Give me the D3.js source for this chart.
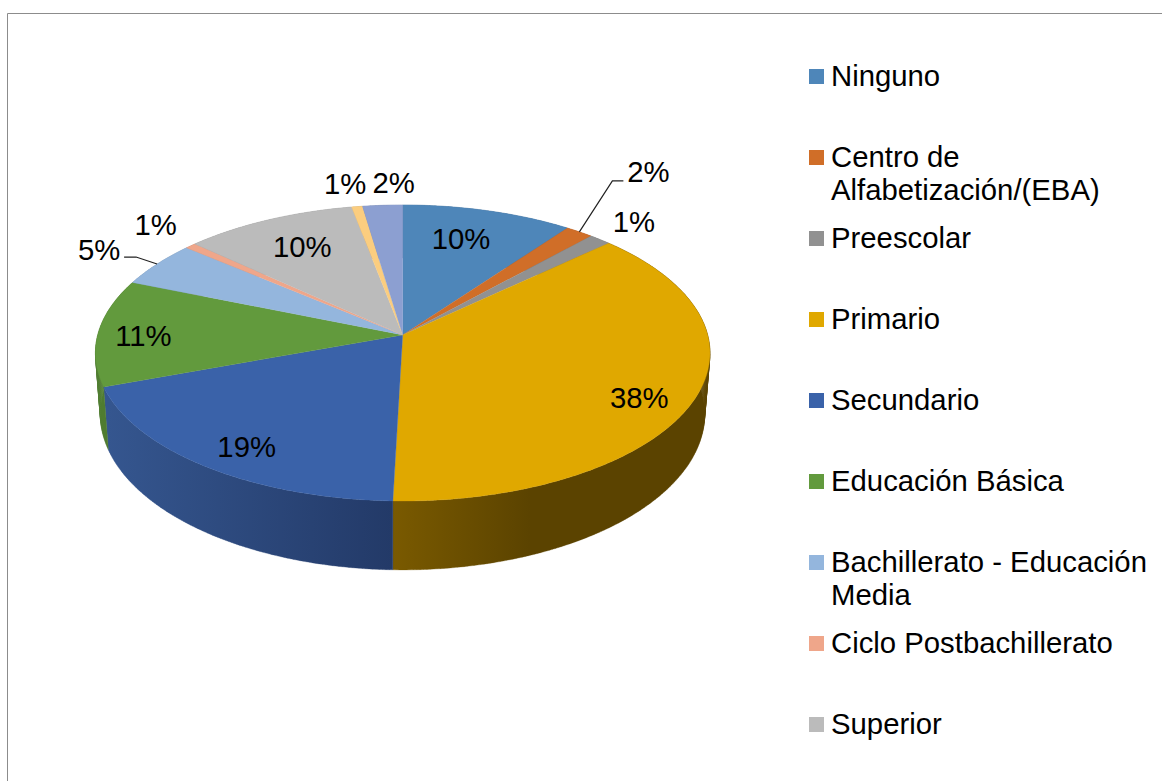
<!DOCTYPE html>
<html>
<head>
<meta charset="utf-8">
<script src="https://cdn.jsdelivr.net/npm/d3@7/dist/d3.min.js"></script>
<style>
html,body{margin:0;padding:0;background:#fff;overflow:hidden}
svg{display:block}
text{font-family:"Liberation Sans",Arial,sans-serif;fill:#000}
</style>
</head>
<body>
<div id="chart"></div>
<script>
// Data (percent of the pie)
const values = [10.1, 1.65, 1.3, 37.4, 19.0, 11.7, 5.0, 0.65, 10.2, 0.64, 2.36];
const percentLabels = ["10%","2%","1%","38%","19%","11%","5%","1%","10%","1%","2%"];
const colors = ["#4E86B9","#D06E28","#919191","#E0A800","#3A62A9","#629A3D","#94B6DD","#EFA68A","#BBBBBB","#FBCD7F","#8C9FD1"];
const wallStart = ["#3D6A93","#A55720","#747474","#7A5A00","#35568F","#4F7C30","#7590B0","#BC846E","#949494","#C6A264","#6F7EA6"];
const wallEnd   = ["#3D6A93","#A55720","#747474","#5B4300","#233A68","#4F7C30","#7590B0","#BC846E","#949494","#C6A264","#6F7EA6"];
const legendItems = [
  ["Ninguno"],
  ["Centro de","Alfabetización/(EBA)"],
  ["Preescolar"],
  ["Primario"],
  ["Secundario"],
  ["Educación Básica"],
  ["Bachillerato - Educación","Media"],
  ["Ciclo Postbachillerato"],
  ["Superior"]
];
// Label placement relative to each slice's rim midpoint
const labelOffsets = [[-27,29],[69,-59],[34,-17],[-56,0],[42,-19],[45,4],[-58,-14],[-35,-20],[34,28],[-12,-22],[11,-22]];
// Leader line: elbow and end relative to the slice's rim midpoint
const leaders = {1:[[33,-51],[44,-51]], 6:[[-21,-7],[-33,-7]]};

const W = 1162, H = 781, FONT = 29.3;
const svg = d3.select("#chart").append("svg").attr("width",W).attr("height",H);
const defs = svg.append("defs");

// Frame of the chart area (only top and left are inside the picture)
svg.append("path").attr("d",d3.line()([[7.5,H],[7.5,13.5],[W,13.5]]))
  .attr("fill","none").attr("stroke","#8c8c8c").attr("stroke-width",1);

// Perspective projection of the pie disc
const P = 0.1216;
const topRim = {cx:402.7, a:335, b:-105.1, r:305};
const botRim = {cx:402.5, a:395, b:-105.6, r:300};
function project(rim, angle, radius=1){
  const u = Math.sin(angle)*radius, v = Math.cos(angle)*radius, w = 1+P*v;
  return [rim.cx + rim.r*u/w, (rim.a + rim.b*v)/w];
}
function arcPoints(rim,a0,a1){
  const n = Math.max(2,Math.ceil(Math.abs(a1-a0)/0.01));
  return d3.range(n+1).map(i=>project(rim,a0+(a1-a0)*i/n));
}
const line = d3.line();
const arcs = d3.pie().sort(null).value(d=>d)(values);

// Wall of a slice: one quad per rim step, so the tangent silhouette is filled too
function wallPath(d){
  const t = arcPoints(topRim,d.startAngle,d.endAngle);
  const b = arcPoints(botRim,d.startAngle,d.endAngle);
  return d3.range(t.length-1).map(i=>line([t[i],t[i+1],b[i+1],b[i]])+"Z").join("");
}

arcs.forEach((d,i)=>{
  const g = defs.append("linearGradient").attr("id","wall"+i)
    .attr("gradientUnits","userSpaceOnUse");
  if(i===3){ g.attr("x1",392).attr("x2",530); }
  else { g.attr("x1",107).attr("x2",392); }
  g.attr("y1",0).attr("y2",0);
  g.append("stop").attr("offset",0).attr("stop-color",wallStart[i]);
  g.append("stop").attr("offset",1).attr("stop-color",wallEnd[i]);
});
svg.append("g").selectAll("path").data(arcs).join("path")
  .attr("d",wallPath)
  .attr("fill",(d,i)=>`url(#wall${i})`)
  .attr("stroke",(d,i)=>`url(#wall${i})`).attr("stroke-width",0.3);

// Top face
const apex = project(topRim,0,0);
svg.append("g").selectAll("path").data(arcs).join("path")
  .attr("d",d=>line([apex].concat(arcPoints(topRim,d.startAngle,d.endAngle)))+"Z")
  .attr("fill",(d,i)=>colors[i])
  .attr("stroke",(d,i)=>colors[i]).attr("stroke-width",0.3);

// Leader lines
const rimMid = d=>project(topRim,(d.startAngle+d.endAngle)/2);
Object.keys(leaders).forEach(k=>{
  const m = rimMid(arcs[k]);
  svg.append("path")
    .attr("d",line([m].concat(leaders[k].map(o=>[m[0]+o[0],m[1]+o[1]]))))
    .attr("fill","none").attr("stroke","#222").attr("stroke-width",1.2);
});

// Data labels
svg.append("g").selectAll("text").data(arcs).join("text")
  .attr("x",(d,i)=>rimMid(d)[0]+labelOffsets[i][0])
  .attr("y",(d,i)=>rimMid(d)[1]+labelOffsets[i][1]+9.5)
  .attr("text-anchor","middle").attr("font-size",FONT)
  .text((d,i)=>percentLabels[i]);

// Legend
const rowY = d3.scaleLinear().domain([0,1]).range([76.5,157.5]);
const legend = svg.append("g").selectAll("g").data(legendItems).join("g")
  .attr("transform",(d,i)=>`translate(0,${rowY(i)})`);
legend.append("rect").attr("x",809).attr("y",-7.5).attr("width",15).attr("height",15)
  .attr("fill",(d,i)=>colors[i]);
legend.selectAll("text").data(d=>d).join("text")
  .attr("x",831).attr("y",(d,i)=>9.5+i*33).attr("font-size",FONT).text(d=>d);
</script>
</body>
</html>
